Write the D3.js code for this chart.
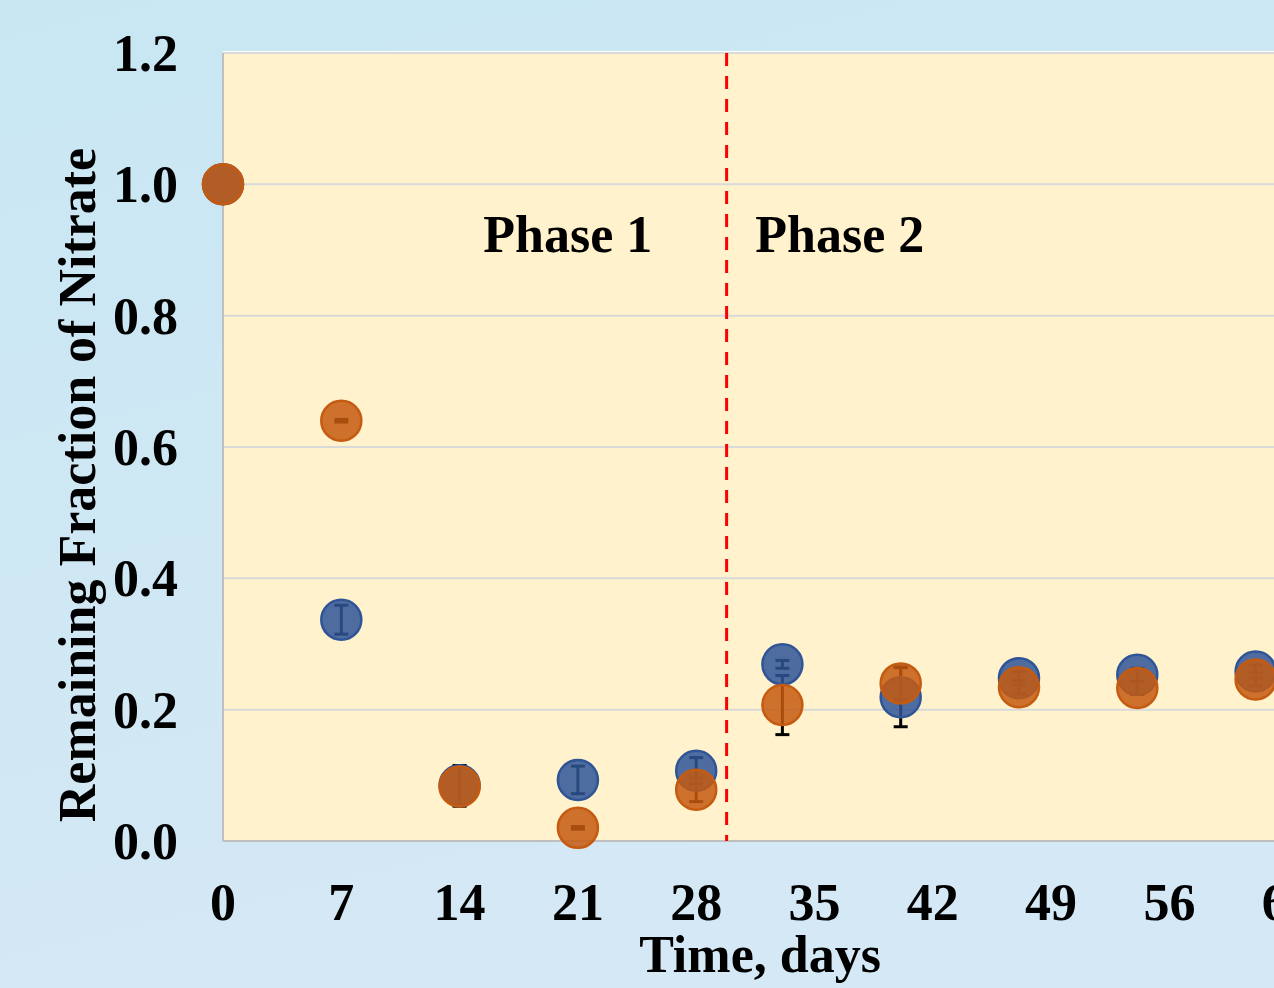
<!DOCTYPE html>
<html>
<head>
<meta charset="utf-8">
<script src="https://cdn.jsdelivr.net/npm/d3@7"></script>
<style>
  html, body { margin: 0; padding: 0; overflow: hidden; }
  text { font-family: "Liberation Serif", "Times New Roman", serif; font-weight: bold; fill: #000; }
</style>
</head>
<body>
<div id="chart"></div>
<script>
// data
var days = [0, 7, 14, 21, 28, 33.1, 40.1, 47.1, 54.1, 61.1];
var blueValues = [1.0, 0.337, 0.085, 0.093, 0.107, 0.269, 0.219, 0.248, 0.253, 0.258];
var blueErrors = [0, 0.022, 0.03, 0.021, 0.02, 0.006, 0.045, 0.01, 0.01, 0.01];
var orangeValues = [1.0, 0.64, 0.083, 0.02, 0.078, 0.207, 0.24, 0.234, 0.233, 0.246];
var orangeErrors = [0, 0.002, 0.03, 0.002, 0.018, 0.045, 0.025, 0.01, 0.01, 0.01];
var xTicks = [0, 7, 14, 21, 28, 35, 42, 49, 56, 63];
var yTicks = [0.0, 0.2, 0.4, 0.6, 0.8, 1.0, 1.2];
var phaseDay = 29.8;
var phaseLabels = ["Phase 1", "Phase 2"];
var phaseLabelDays = [20.4, 36.5];
var phaseLabelY = 0.897;

var width = 1274, height = 988;
var plotLeft = 223, plotTop = 53, plotBottom = 841;

var svg = d3.select('#chart').append('svg')
    .attr('width', width)
    .attr('height', height);

var defs = svg.append('defs');
var grad = defs.append('linearGradient')
    .attr('id', 'bg')
    .attr('x1', 0).attr('y1', 0).attr('x2', 0.3).attr('y2', 1);
grad.append('stop').attr('offset', '0%').attr('stop-color', '#c8e7f3');
grad.append('stop').attr('offset', '100%').attr('stop-color', '#d5e8f5');

svg.append('rect')
    .attr('width', width).attr('height', height)
    .attr('fill', 'url(#bg)');

var x = d3.scaleLinear().domain([0, 63]).range([plotLeft, plotLeft + 63 * 16.9]);
var y = d3.scaleLinear().domain([0, 1.2]).range([plotBottom, plotTop]);

// plot area
svg.append('rect')
    .attr('x', plotLeft).attr('y', plotTop)
    .attr('width', width - plotLeft).attr('height', plotBottom - plotTop)
    .attr('fill', '#fff2cc');
svg.append('line')
    .attr('x1', plotLeft).attr('x2', width)
    .attr('y1', plotTop - 1).attr('y2', plotTop - 1)
    .attr('stroke', '#ffffff').attr('stroke-width', 2);

// gridlines
svg.append('g').selectAll('line.grid')
    .data(yTicks.slice(1))
    .enter().append('line')
    .attr('class', 'grid')
    .attr('x1', plotLeft).attr('x2', width)
    .attr('y1', function(d) { return y(d); })
    .attr('y2', function(d) { return y(d); })
    .attr('stroke', '#d9d9d9').attr('stroke-width', 2);

// axis lines
svg.append('line')
    .attr('x1', plotLeft).attr('x2', plotLeft).attr('y1', plotTop).attr('y2', plotBottom)
    .attr('stroke', '#bfbfbf').attr('stroke-width', 2);
svg.append('line')
    .attr('x1', plotLeft).attr('x2', width).attr('y1', plotBottom).attr('y2', plotBottom)
    .attr('stroke', '#bfbfbf').attr('stroke-width', 2);

// tick labels
svg.append('g').selectAll('text')
    .data(yTicks)
    .enter().append('text')
    .attr('x', 178)
    .attr('y', function(d) { return y(d) + 18; })
    .attr('text-anchor', 'end')
    .attr('font-size', 52)
    .text(function(d) { return d.toFixed(1); });

svg.append('g').selectAll('text')
    .data(xTicks)
    .enter().append('text')
    .attr('x', function(d) { return x(d); })
    .attr('y', 920)
    .attr('text-anchor', 'middle')
    .attr('font-size', 52)
    .text(function(d) { return d; });

// axis titles
svg.append('text')
    .attr('x', 760).attr('y', 972)
    .attr('text-anchor', 'middle')
    .attr('font-size', 52)
    .text('Time, days');
svg.append('text')
    .attr('transform', 'translate(95,485)rotate(-90)')
    .attr('text-anchor', 'middle')
    .attr('font-size', 52)
    .text('Remaining Fraction of Nitrate');

// phase divider
svg.append('line')
    .attr('x1', x(phaseDay)).attr('x2', x(phaseDay))
    .attr('y1', plotTop).attr('y2', plotBottom)
    .attr('stroke', '#ff0000').attr('stroke-width', 3)
    .attr('stroke-dasharray', '13,10');

svg.append('g').selectAll('text')
    .data(phaseLabels)
    .enter().append('text')
    .attr('x', function(d, i) { return x(phaseLabelDays[i]); })
    .attr('y', y(phaseLabelY))
    .attr('text-anchor', 'middle')
    .attr('font-size', 52)
    .text(function(d) { return d; });

var series = [
    { values: blueValues, errors: blueErrors, fill: 'rgba(47,85,151,0.85)', stroke: '#2f5597' },
    { values: orangeValues, errors: orangeErrors, fill: 'rgba(197,90,17,0.85)', stroke: '#c55a11' }
];

// error bars under all markers
var eb = svg.append('g').attr('class', 'errorbars');
series.forEach(function(s) {
    days.forEach(function(d, i) {
        if (!s.errors[i]) return;
        var cx = x(d), lo = y(s.values[i] - s.errors[i]), hi = y(s.values[i] + s.errors[i]);
        eb.append('line').attr('x1', cx).attr('x2', cx).attr('y1', lo).attr('y2', hi)
            .attr('stroke', '#000').attr('stroke-width', 3);
        [lo, hi].forEach(function(yy) {
            eb.append('line').attr('x1', cx - 7).attr('x2', cx + 7).attr('y1', yy).attr('y2', yy)
                .attr('stroke', '#000').attr('stroke-width', 3);
        });
    });
});

series.forEach(function(s) {
    svg.append('g').selectAll('circle')
        .data(days)
        .enter().append('circle')
        .attr('cx', function(d) { return x(d); })
        .attr('cy', function(d, i) { return y(s.values[i]); })
        .attr('r', 20)
        .attr('fill', s.fill)
        .attr('stroke', s.stroke)
        .attr('stroke-width', 2.5);
});
</script>
</body>
</html>
